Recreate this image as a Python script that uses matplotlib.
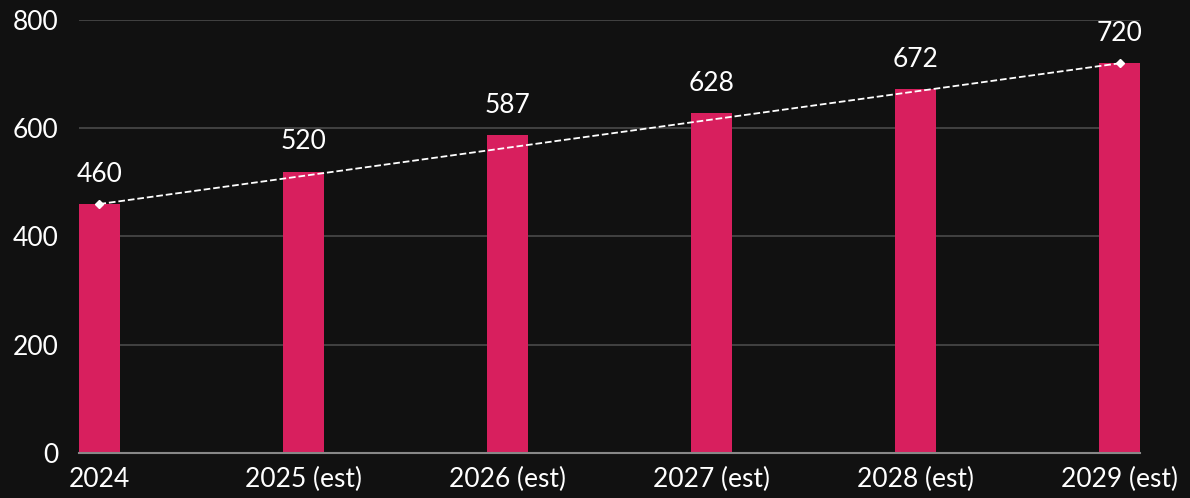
import matplotlib.pyplot as plt
import numpy as np

years = ['2024', '2025 (est)', '2026 (est)', '2027 (est)', '2028 (est)', '2029 (est)']
values = [460, 520, 587, 628, 672, 720]
y_ticks = [0, 200, 400, 600, 800]

bg = '#111111'
bar_color = '#D81F5E'

plt.rcParams['font.family'] = ['Lato', 'DejaVu Sans']

fig = plt.figure(figsize=(11.9, 4.98), dpi=100, facecolor=bg)
ax = fig.add_axes([79 / 1190, 45 / 498, (1140 - 79) / 1190, (453 - 20) / 498])
ax.set_facecolor(bg)

x = np.arange(len(years))
ax.bar(x, values, width=0.2, color=bar_color, zorder=3)

# value labels above each bar
for xi, v in zip(x, values):
    ax.text(xi, v + 55, str(v), ha='center', va='center', color='white', fontsize=19)

# straight dashed trend from first to last year
ax.plot([x[0], x[-1]], [values[0], values[-1]], color='white', linestyle='--',
        linewidth=1.3, marker='D', markersize=4, zorder=4)

ax.set_xlim(-0.1, 5.1)
ax.set_ylim(0, 800)
ax.set_yticks(y_ticks)
ax.set_xticks(x)
ax.set_xticklabels(years)
ax.tick_params(axis='both', colors='white', labelsize=19, length=0)
ax.tick_params(axis='y', pad=15)
ax.tick_params(axis='x', pad=10)

ax.grid(axis='y', color='#4a4a4a', linewidth=1.2, zorder=0)
ax.set_axisbelow(True)
for side in ['top', 'right', 'left']:
    ax.spines[side].set_visible(False)
ax.spines['bottom'].set_color('#888888')
ax.spines['bottom'].set_linewidth(1.5)
ax.spines['bottom'].set_zorder(5)

fig.savefig('out.png', dpi=100, facecolor=bg)
